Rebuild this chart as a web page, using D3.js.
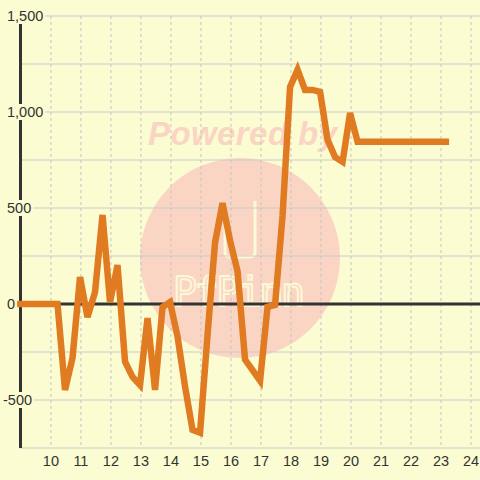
<!DOCTYPE html>
<html>
<head>
<meta charset="utf-8">
<script src="https://cdn.jsdelivr.net/npm/d3@7"></script>
<style>
  html, body { margin: 0; padding: 0; background: #fcfcd2; }
  svg { display: block; }
</style>
</head>
<body>
<div id="chart"></div>
<script>
// series
const xs = [8.87, 9.22, 9.47, 9.72, 9.97, 10.22, 10.47, 10.72, 10.97, 11.22, 11.47, 11.72,
    11.97, 12.22, 12.47, 12.72, 12.97, 13.22, 13.47, 13.72, 13.97, 14.22, 14.47, 14.72,
    14.97, 15.23, 15.47, 15.72, 15.97, 16.22, 16.47, 16.72, 16.97, 17.22, 17.47, 17.72,
    17.97, 18.22, 18.47, 18.72, 18.97, 19.22, 19.47, 19.72, 19.97, 20.22, 20.47, 20.72,
    20.97, 21.22, 21.47, 21.72, 21.97, 22.22, 22.47, 22.72, 22.97, 23.27]
const ys = [0, 0, 0, 0, 0, 0, -448, -281, 140, -68, 62, 464,
    10, 203, -300, -380, -422, -73, -448, -16, 10, -170, -430, -656,
    -670, -140, 320, 525, 330, 170, -290, -345, -400, -15, -5, 460,
    1130, 1220, 1115, 1115, 1105, 855, 765, 740, 995, 845, 845, 845,
    845, 845, 845, 845, 845, 845, 845, 845, 845, 845]
const yTicks = [-500, 0, 500, 1000, 1500]
const yGrid = [-750, -500, -250, 0, 250, 500, 750, 1000, 1250, 1500]
const xTicks = [10, 11, 12, 13, 14, 15, 16, 17, 18, 19, 20, 21, 22, 23, 24]

const width = 480, height = 480
const bg = '#fcfcd2'

const x = d3.scaleLinear().domain([8.87, 24.3]).range([17, 480])
const y = d3.scaleLinear().domain([-750, 1500]).range([448, 16])

const svg = d3.select('#chart').append('svg')
    .attr('width', width)
    .attr('height', height)

svg.append('rect').attr('width', width).attr('height', height).attr('fill', bg)

// watermark
const wm = svg.append('g')
wm.append('circle')
    .attr('cx', 240).attr('cy', 258).attr('r', 100)
    .attr('fill', '#fad5c4')
wm.append('text')
    .attr('x', 148).attr('y', 145)
    .attr('textLength', 189)
    .attr('font-family', 'Liberation Sans, Arial, sans-serif')
    .attr('font-weight', 'bold')
    .attr('font-style', 'italic')
    .attr('font-size', 33)
    .attr('fill', '#fad5c4')
    .text('Powered by')
wm.append('path')
    .attr('d', 'M225,205 L225,252 Q225,257 230,257 L250,257 Q255,257 255,252 L255,201')
    .attr('fill', 'none')
    .attr('stroke', '#fdf8d6')
    .attr('stroke-width', 3)
wm.append('text')
    .attr('x', 173).attr('y', 306)
    .attr('textLength', 132)
    .attr('font-family', 'DejaVu Sans Mono, monospace')
    .attr('font-size', 40)
    .attr('fill', 'none')
    .attr('stroke', '#fdf8d6')
    .attr('stroke-width', 2)
    .text('PfPinn')

// grid
const grid = svg.append('g')
grid.selectAll('line.h')
    .data(yGrid)
    .enter()
    .append('line')
    .attr('x1', 20).attr('x2', width)
    .attr('y1', d => y(d)).attr('y2', d => y(d))
    .attr('stroke', '#c9c9c9')
    .attr('stroke-width', 1.2)
grid.selectAll('line.v')
    .data(xTicks)
    .enter()
    .append('line')
    .attr('x1', d => x(d)).attr('x2', d => x(d))
    .attr('y1', 16).attr('y2', 448)
    .attr('stroke', '#c4c4c4')
    .attr('stroke-width', 1)
    .attr('stroke-dasharray', '3,3')

// zero line and y axis
svg.append('line')
    .attr('x1', 17).attr('x2', width)
    .attr('y1', y(0)).attr('y2', y(0))
    .attr('stroke', '#333')
    .attr('stroke-width', 3)
svg.append('line')
    .attr('x1', 20.5).attr('x2', 20.5)
    .attr('y1', 16).attr('y2', 448)
    .attr('stroke', '#333')
    .attr('stroke-width', 3)

// series
const line = d3.line()
    .x((d, i) => x(xs[i]))
    .y(d => y(d))
svg.append('path')
    .attr('d', line(ys))
    .attr('fill', 'none')
    .attr('stroke', '#e07b22')
    .attr('stroke-width', 6.5)

// y labels with background boxes
const fmt = v => d3.format(',')(v).replace('\u2212', '-')
const yl = svg.append('g')
    .attr('font-family', 'Liberation Sans, Arial, sans-serif')
    .attr('font-size', 14.5)
    .attr('fill', '#333')
yTicks.forEach(v => {
    const t = yl.append('text')
        .attr('x', v < 0 ? 3 : 7)
        .attr('y', y(v))
        .attr('dy', '0.36em')
        .text(fmt(v))
    const b = t.node().getBBox()
    yl.insert('rect', 'text')
        .attr('x', b.x - 2).attr('y', y(v) - 8)
        .attr('width', b.width + 4).attr('height', 16)
        .attr('fill', bg)
})

// x labels
svg.append('g')
    .attr('font-family', 'Liberation Sans, Arial, sans-serif')
    .attr('font-size', 14.5)
    .attr('fill', '#333')
    .attr('text-anchor', 'middle')
    .selectAll('text')
    .data(xTicks)
    .enter()
    .append('text')
    .attr('x', d => x(d))
    .attr('y', 466)
    .text(d => d)
</script>
</body>
</html>
